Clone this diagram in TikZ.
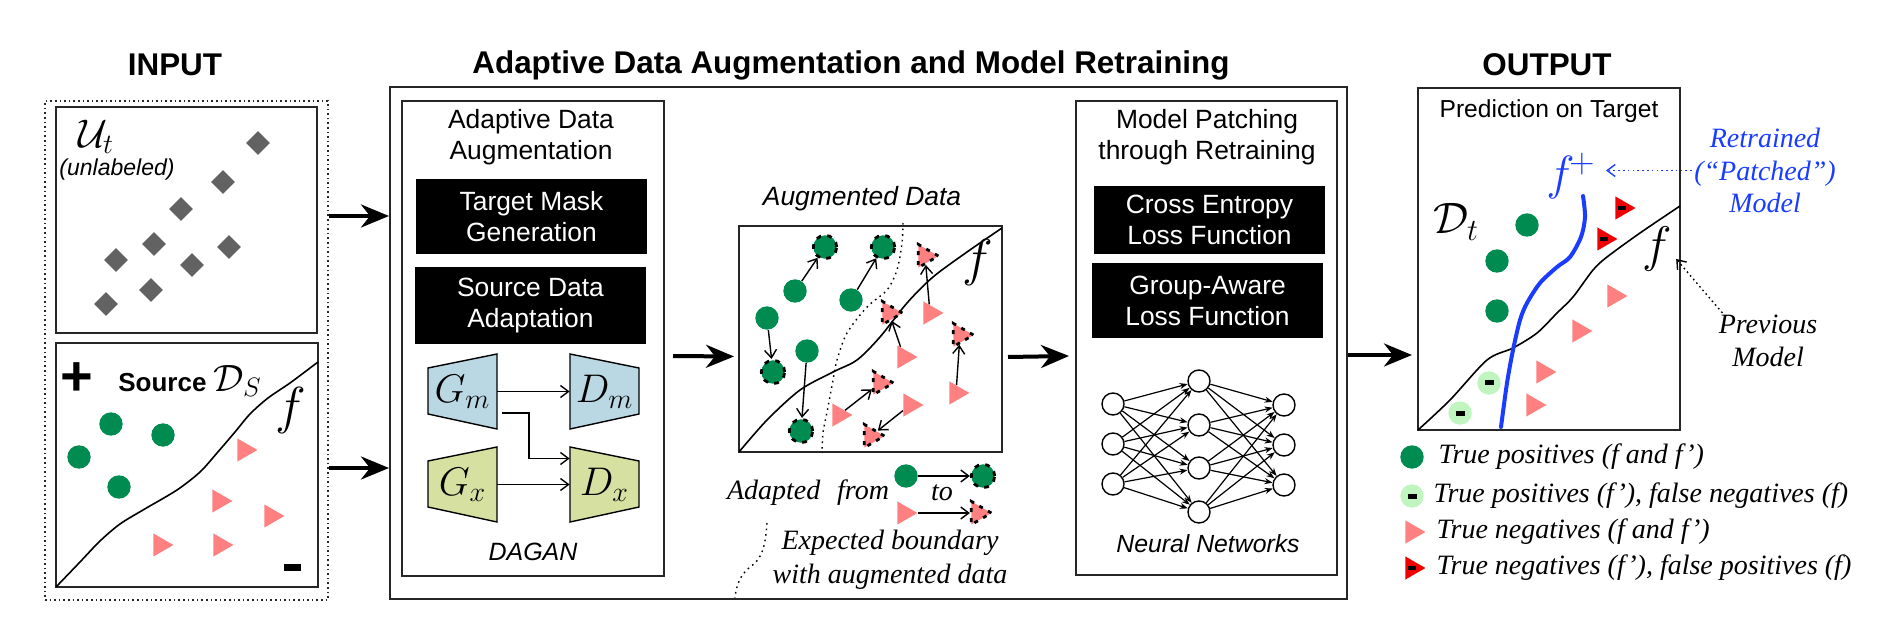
\RequirePackage{fix-cm}
\documentclass[tikz,border=0pt]{standalone}
\usepackage[no-math]{fontspec}
\setmainfont{Liberation Sans}
\newfontfamily\tms{Liberation Serif}
\usepackage{xcolor}
\usepackage{tikz}
\usetikzlibrary{arrows.meta,positioning,shapes.geometric}
\definecolor{posgreen}{RGB}{0,140,80}
\definecolor{fngreen}{RGB}{192,245,192}
\definecolor{negpink}{RGB}{255,128,128}
\definecolor{fpred}{RGB}{240,0,0}
\definecolor{unlgray}{RGB}{98,98,98}
\definecolor{trapblue}{RGB}{186,216,228}
\definecolor{trapgreen}{RGB}{214,224,161}
\definecolor{patchblue}{RGB}{25,60,255}

\begin{document}
\begin{tikzpicture}[x=0.5pt,y=-0.5pt,
      box_plain/.style={
         draw=black!85,
         line width=1pt,
         inner sep=0pt},
      box_dark/.style={
         fill=black,
         text=white,
         align=center,
         inner sep=0pt,
         minimum width=115.5pt,
         font=\fontsize{13.2}{15.5}\selectfont},
      txt_head/.style={font=\fontsize{15.7}{18}\selectfont\bfseries},
      txt_sans/.style={align=center,inner sep=1pt,font=\fontsize{13.2}{15.5}\selectfont},
      txt_sans_it/.style={align=center,inner sep=1pt,font=\fontsize{13.2}{15.5}\selectfont\itshape},
      txt_serif/.style={align=center,inner sep=1pt,font=\tms\itshape\fontsize{14}{16.3}\selectfont},
      lbl_f/.style={inner sep=1pt,font=\fontsize{26}{26}\selectfont},
      dia_unl/.style={diamond,fill=unlgray,inner sep=0pt,minimum size=12pt},
      dot_pos/.style={circle,fill=posgreen,inner sep=0pt,minimum size=11.7pt},
      dot_fn/.style={dot_pos,fill=fngreen},
      dot_adp/.style={dot_pos,draw=black,line width=1.4pt,dash pattern=on 2.4pt off 3.2pt},
      tri_neg/.style={
         regular polygon,
         regular polygon sides=3,
         shape border rotate=-90,
         fill=negpink,
         inner sep=0pt,
         minimum size=13.4pt},
      tri_fp/.style={tri_neg,fill=fpred},
      tri_adp/.style={tri_neg,draw=black,line width=1.4pt,dash pattern=on 2pt off 3pt},
      nn_unit/.style={circle,draw=black,line width=0.7pt,inner sep=0pt,minimum size=11pt},
      arrow_thick/.style={
        -{Stealth[length=14pt,width=11.5pt,inset=4.5pt]},
        line width=2pt,
        },
      arrow_thin/.style={
        -{Straight Barb[length=4pt,width=6pt]},
        line width=0.7pt,
        },
      arrow_nn/.style={
        -{Stealth[length=4pt,width=3pt]},
        line width=0.6pt,
        },
      arrow_dot/.style={
        -{Straight Barb[length=4pt,width=6pt]},
        line width=0.7pt,
        dash pattern=on 0.8pt off 1.6pt,
        },
      curve_f/.style={line width=0.8pt},
      line_dot/.style={line width=0.7pt,dash pattern=on 0.8pt off 2pt}
]
\useasboundingbox (0,0) rectangle (1884,630);

      %input
      \node[txt_head] (in_title) at (175,65) {INPUT};
      \node[box_plain,line width=0.8pt,dash pattern=on 0.8pt off 1.5pt,
            minimum width=141.5pt,minimum height=249.5pt] (in_box) at (186.5,350.5) {};
      \node[box_plain,minimum width=130.5pt,minimum height=113pt] (u_box) at (186.5,220) {};
      \node[box_plain,minimum width=131pt,minimum height=122pt] (s_box) at (187,465) {};

      \node[font=\fontsize{20}{20}\selectfont,inner sep=1pt] (u_lbl) at (96,137) {$\mathcal{U}_t$};
      \node[inner sep=1pt,font=\fontsize{11.5}{13}\selectfont\itshape] (unl_lbl) at (117,170) {(unlabeled)};
      \foreach \x/\y [count=\k] in {258/143,223/182,181/209,154/244,229/247,116/260,192/265,151/290,106/304}
        \node[dia_unl] (d\k) at (\x,\y) {};

      \draw[curve_f] plot[smooth] coordinates {(56,587) (80,562) (100,541) (120,524) (143,510)
        (177,490) (200,472) (217,453) (235,432) (250,414) (268,398) (290,383) (318,362)};
      \node[inner sep=0pt,font=\fontsize{28}{28}\selectfont\bfseries] (pos_mark) at (77,379) {+};
      \node[inner sep=1pt,font=\fontsize{13}{15}\selectfont] (src_lbl) at (190,381)
        {\textbf{Source} {\fontsize{19}{19}\selectfont$\mathcal{D}_S$}};
      \node[lbl_f] (f_src) at (291,410) {$f$};
      \node[inner sep=0pt] (neg_mark) at (292,567) {\rule{8.5pt}{3.5pt}};
      \foreach \x/\y [count=\k] in {111/424,163/435,79/457,119/487}
        \node[dot_pos] (sp\k) at (\x,\y) {};
      \foreach \x/\y [count=\k] in {244/450,219/501,271/516,160/545,220/545}
        \node[tri_neg] (sn\k) at (\x,\y) {};

      %augmentation and retraining
      \node[txt_head] (main_title) at (851,65) {Adaptive Data Augmentation and Model Retraining};
      \node[box_plain,minimum width=478.5pt,minimum height=256pt] (main_box) at (868.5,343) {};
      \draw[arrow_thick] ([yshift=2pt]u_box.east -| in_box.east) -- ([yshift=2pt]u_box.east -| main_box.west);
      \draw[arrow_thick] ([yshift=-1.5pt]s_box.east -| in_box.east) -- ([yshift=-1.5pt]s_box.east -| main_box.west);

      \node[box_plain,minimum width=131pt,minimum height=237.5pt] (ada_box) at (533,338.5) {};
      \node[txt_sans] (ada_lbl) at (531,137) {Adaptive Data\\Augmentation};
      \node[box_dark,minimum height=37.5pt] (tmg) at (531.5,216.5) {Target Mask\\Generation};
      \node[box_dark,minimum height=38.5pt] (sda) at (530.5,305.5) {Source Data\\Adaptation};

      \draw[line width=0.7pt,fill=trapblue] (428,368) -- (497,354) -- (497,429) -- (428,414) -- cycle;
      \draw[line width=0.7pt,fill=trapblue] (570,354) -- (639,368) -- (639,414) -- (570,429) -- cycle;
      \draw[line width=0.7pt,fill=trapgreen] (428,461) -- (497,447) -- (497,522) -- (428,507) -- cycle;
      \draw[line width=0.7pt,fill=trapgreen] (570,447) -- (639,461) -- (639,507) -- (570,522) -- cycle;
      \foreach \n/\x/\y/\txt in {Gm/462.5/391.5/G_m, Dm/604.5/391.5/D_m, Gx/462.5/484.5/G_x, Dx/604.5/484.5/D_x}
        \node[inner sep=0pt,minimum width=34.5pt,minimum height=37.5pt,
              font=\fontsize{20}{20}\selectfont] (\n) at (\x,\y) {$\txt$};
      \draw[arrow_thin] (Gm) -- (Dm);
      \draw[arrow_thin] (Gx) -- (Dx);
      \coordinate (gm_tap) at (502,413);
      \draw[arrow_thin] (gm_tap) -- ++(27,0) |- ([yshift=13pt]Dx.west);
      \node[txt_sans_it,font=\fontsize{12.5}{15}\selectfont\itshape] (dagan) at (533,552) {DAGAN};

      %augmented data
      \node[txt_sans_it] (aug_lbl) at (862,199) {Augmented Data};
      \node[box_plain,minimum width=131.5pt,minimum height=113pt] (aug_box) at (870.5,339) {};
      \draw[arrow_thick] ([xshift=4pt,yshift=-8.75pt]ada_box.east) -- ([xshift=-2pt,yshift=-8.75pt]aug_box.west);
      \draw[curve_f] plot[smooth] coordinates {(739,452) (767,420) (800,390) (833,372) (857,360)
        (880,337) (907,303) (933,277) (967,252) (1002,228)};
      \draw[line_dot] plot[smooth] coordinates {(903,223) (902,243) (897,270) (887,290) (867,307)
        (847,333) (837,360) (833,380) (828,407) (823,433) (822,453)};
      \node[lbl_f] (f_aug) at (978,263) {$f$};

      \foreach \x/\y [count=\k] in {795/291,851/300,767/318,807/351}
        \node[dot_pos] (ag\k) at (\x,\y) {};
      \foreach \x/\y [count=\k] in {825/247,883/247,773/372,801/431}
        \node[dot_adp] (aa\k) at (\x,\y) {};
      \foreach \x/\y [count=\k] in {930/313,904/357,956/393,910/405,839/415}
        \node[tri_neg] (at\k) at (\x,\y) {};
      \foreach \x/\y [count=\k] in {925/256,889/313,960/335,871/436,880/383}
        \node[tri_adp] (ab\k) at (\x,\y) {};
      \foreach \i in {1,...,4}
        \draw[arrow_thin] (ag\i) -- (aa\i);
      \foreach \i in {1,...,5}
        \draw[arrow_thin] (at\i) -- (ab\i);

      \node[txt_serif] (from_lbl) at (808,493) {Adapted\hspace{0.6em}from};
      \node[txt_serif] (to_lbl) at (942,493) {to};
      \node[dot_pos] (lg_from_c) at (906,476) {};
      \node[dot_adp] (lg_to_c) at (983,476) {};
      \node[tri_neg] (lg_from_t) at (904,513) {};
      \node[tri_adp] (lg_to_t) at (978,513) {};
      \draw[arrow_thin] (lg_from_c) -- (lg_to_c);
      \draw[arrow_thin] (lg_from_t) -- (lg_to_t);
      \draw[line_dot] (767,523) .. controls (765,552) and (760,560) .. (750,567)
        .. controls (740,575) and (736,586) .. (735,598);
      \node[txt_serif,font=\tms\itshape\fontsize{14}{17}\selectfont] (exp_lbl) at (890,560)
        {Expected boundary\\with augmented data};

      %retraining
      \node[box_plain,minimum width=130.5pt,minimum height=237pt] (mpr_box) at (1206.5,338) {};
      \draw[arrow_thick] ([xshift=2.5pt,yshift=-9pt]aug_box.east) -- ([xshift=-3pt,yshift=-9pt]mpr_box.west);
      \node[txt_sans] (mpr_lbl) at (1207,137) {Model Patching\\through Retraining};
      \node[box_dark,minimum height=34pt] (cel) at (1209.5,220) {Cross Entropy\\Loss Function};
      \node[box_dark,minimum height=37.5pt] (gal) at (1207.5,300.5) {Group-Aware\\Loss Function};

      \foreach \y [count=\k] in {404,444,484}
        \node[nn_unit] (i\k) at (1113,\y) {};
      \foreach \y [count=\k] in {381,425,468,512}
        \node[nn_unit] (h\k) at (1199,\y) {};
      \foreach \y [count=\k] in {405,445,485}
        \node[nn_unit] (o\k) at (1284,\y) {};
      \foreach \a in {1,2,3}
        \foreach \b in {1,...,4}
          \draw[arrow_nn] (i\a) -- (h\b);
      \foreach \a in {1,...,4}
        \foreach \b in {1,2,3}
          \draw[arrow_nn] (h\a) -- (o\b);
      \node[txt_sans_it,font=\fontsize{12.4}{15}\selectfont\itshape] (nn_lbl) at (1208,544) {Neural Networks};

      %output
      \node[txt_head] (out_title) at (1547,65) {OUTPUT};
      \node[box_plain,minimum width=131pt,minimum height=171pt] (out_box) at (1549,259) {};
      \draw[arrow_thick] ([yshift=-6pt]main_box.east) -- ([xshift=-2.5pt,yshift=-6pt]main_box.east -| out_box.west);
      \node[txt_sans,font=\fontsize{12.3}{15}\selectfont] (pred_lbl) at (1549,111) {Prediction on Target};

      \draw[curve_f] plot[smooth] coordinates {(1418,430) (1450,400) (1487,360) (1513,348) (1537,333)
        (1557,313) (1573,297) (1593,270) (1607,257) (1640,233) (1680,206)};
      \draw[patchblue,line width=2pt,line cap=round] plot[smooth] coordinates {(1583,196) (1585,217)
        (1581,237) (1570,257) (1557,267) (1540,283) (1527,303) (1520,320) (1513,350) (1507,383) (1501,427)};

      \node[font=\fontsize{22}{22}\selectfont,inner sep=1pt] (dt_lbl) at (1456,222) {$\mathcal{D}_t$};
      \node[lbl_f,font=\fontsize{25}{25}\selectfont] (f_out) at (1657,249) {$f$};
      \node[lbl_f,font=\fontsize{24}{24}\selectfont,text=patchblue] (f_plus) at (1571,176) {$f^{\!+}$};

      \foreach \x/\y [count=\k] in {1527/225,1497/261,1497/311}
        \node[dot_pos] (op\k) at (\x,\y) {};
      \foreach \x/\y [count=\k] in {1489/383,1460/413}
        \node[dot_fn] (ofn\k) at (\x,\y) {\rule{4.5pt}{2.5pt}};
      \foreach \x/\y [count=\k] in {1614/296,1579/331,1543/372,1533/405}
        \node[tri_neg] (otn\k) at (\x,\y) {};
      \foreach \x/\y [count=\k] in {1622/208,1604/239}
        \node[tri_fp] (ofp\k) at (\x,\y) {\rule{4pt}{2.2pt}};

      \node[txt_serif,text=patchblue] (retr_lbl) at (1765,170.5) {Retrained\\(“Patched”)\\Model};
      \node[txt_serif] (prev_lbl) at (1768,341) {Previous\\Model};
      \draw[arrow_dot,patchblue] (retr_lbl.west) -- ([xshift=4pt]f_plus.east |- retr_lbl.west);
      \draw[arrow_dot] ([xshift=3pt]prev_lbl.north west) -- ([xshift=1pt,yshift=-5pt]f_out.east);

      %legend
      \node[dot_pos] (lg_tp) at (1412,457) {};
      \node[dot_fn] (lg_fn) at (1412,496) {\rule{4.5pt}{2.5pt}};
      \node[tri_neg] (lg_tn) at (1412,532) {};
      \node[tri_fp] (lg_fp) at (1412,568) {\rule{4pt}{2.2pt}};
      \node[txt_serif,right=6pt of lg_tp] (lg_tp_txt) {True positives (f and f’)};
      \node[txt_serif,right=3.5pt of lg_fn] (lg_fn_txt) {True positives (f’), false negatives (f)};
      \node[txt_serif,right=4pt of lg_tn] (lg_tn_txt) {True negatives (f and f’)};
      \node[txt_serif,right=4pt of lg_fp] (lg_fp_txt) {True negatives (f’), false positives (f)};
\end{tikzpicture}
\end{document}
